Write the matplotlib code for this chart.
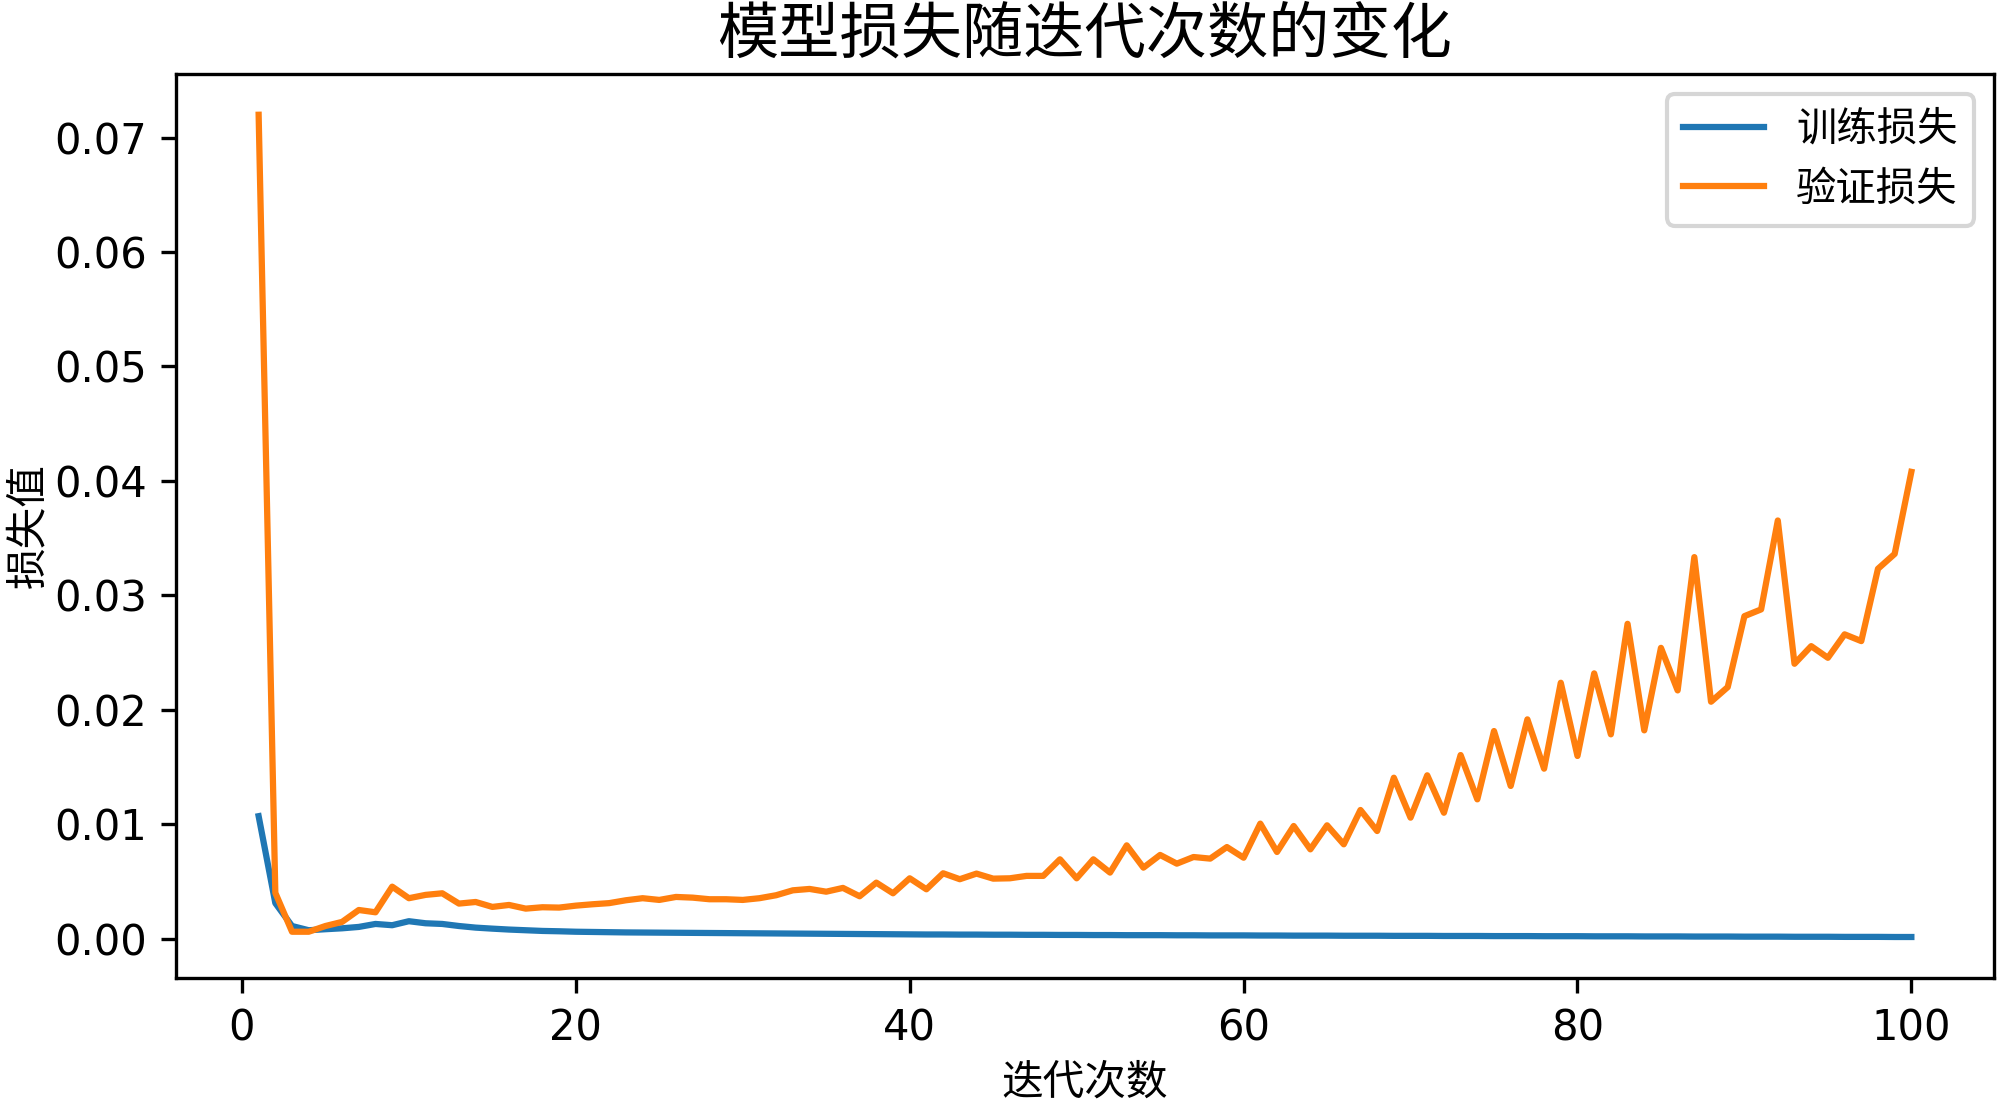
import matplotlib
matplotlib.use('Agg')
import matplotlib.pyplot as plt

plt.rcParams['font.family'] = ['DejaVu Sans', 'Noto Sans CJK SC']  # 中文标签
plt.rcParams['axes.unicode_minus'] = False

# 迭代次数 1..100
epochs = list(range(1, 101))

# 训练损失
train_loss = [
    0.0107, 0.0031, 0.0011, 0.00073, 0.00082, 0.0009, 0.00102, 0.00128, 0.00117, 0.00152,
    0.00134, 0.00128, 0.0011, 0.00096, 0.00087, 0.00079, 0.00073, 0.00067, 0.00064, 0.0006,
    0.00058, 0.00056, 0.00054, 0.00053, 0.00052, 0.00051, 0.0005, 0.00049, 0.00048, 0.00047,
    0.00046, 0.00045, 0.00044, 0.00043, 0.00042, 0.00041, 0.0004, 0.00039, 0.00038, 0.00037,
    0.00036, 0.00036, 0.00035, 0.00035, 0.00034, 0.00034, 0.00033, 0.00033, 0.00032, 0.00032,
    0.00031, 0.00031, 0.0003, 0.0003, 0.0003, 0.00029, 0.00029, 0.00028, 0.00028, 0.00028,
    0.00027, 0.00027, 0.00026, 0.00026, 0.00026, 0.00025, 0.00025, 0.00025, 0.00024, 0.00024,
    0.00024, 0.00023, 0.00023, 0.00023, 0.00022, 0.00022, 0.00022, 0.00021, 0.00021, 0.00021,
    0.0002, 0.0002, 0.0002, 0.00019, 0.00019, 0.00019, 0.00018, 0.00018, 0.00018, 0.00017,
    0.00017, 0.00017, 0.00016, 0.00016, 0.00016, 0.00015, 0.00015, 0.00015, 0.00014, 0.00014,
]

# 验证损失
val_loss = [
    0.0720, 0.0040, 0.0006, 0.0006, 0.0011, 0.00146, 0.0025, 0.0023, 0.00454, 0.00353,
    0.00382, 0.00396, 0.00306, 0.0032, 0.00277, 0.00294, 0.00262, 0.00274, 0.00271, 0.00288,
    0.0030, 0.0031, 0.00335, 0.00353, 0.00338, 0.00364, 0.00358, 0.00344, 0.00344, 0.00338,
    0.00353, 0.00379, 0.00422, 0.00434, 0.0041, 0.00443, 0.0037, 0.00489, 0.00396, 0.00527,
    0.00431, 0.00571, 0.00519, 0.00568, 0.00524, 0.00527, 0.00548, 0.00548, 0.00693, 0.00527,
    0.00693, 0.00577, 0.00815, 0.0062, 0.00731, 0.00655, 0.00713, 0.00699, 0.008, 0.00707,
    0.01005, 0.00757, 0.00984, 0.0078, 0.0099, 0.00824, 0.01124, 0.0094, 0.01406, 0.01057,
    0.01427, 0.011, 0.01604, 0.01217, 0.01814, 0.01334, 0.01916, 0.01485, 0.02236, 0.01596,
    0.02318, 0.01785, 0.02751, 0.0182, 0.02541, 0.02169, 0.03334, 0.0207, 0.02198, 0.02818,
    0.02877, 0.03654, 0.02402, 0.02556, 0.02454, 0.02659, 0.026, 0.03232, 0.03362, 0.04079,
]

plt.figure(figsize=(2000 / 300, 1099 / 300), dpi=300)
plt.plot(epochs, train_loss, label='训练损失')
plt.plot(epochs, val_loss, label='验证损失')
plt.title('模型损失随迭代次数的变化', fontsize=14.7, pad=5)
plt.xlabel('迭代次数', labelpad=3)
plt.ylabel('损失值', labelpad=1)
plt.legend(loc='upper right', fontsize=9.7, labelspacing=0.48)
plt.subplots_adjust(left=0.088, right=0.997, bottom=0.110, top=0.933)
plt.savefig('out.png', dpi=300)
